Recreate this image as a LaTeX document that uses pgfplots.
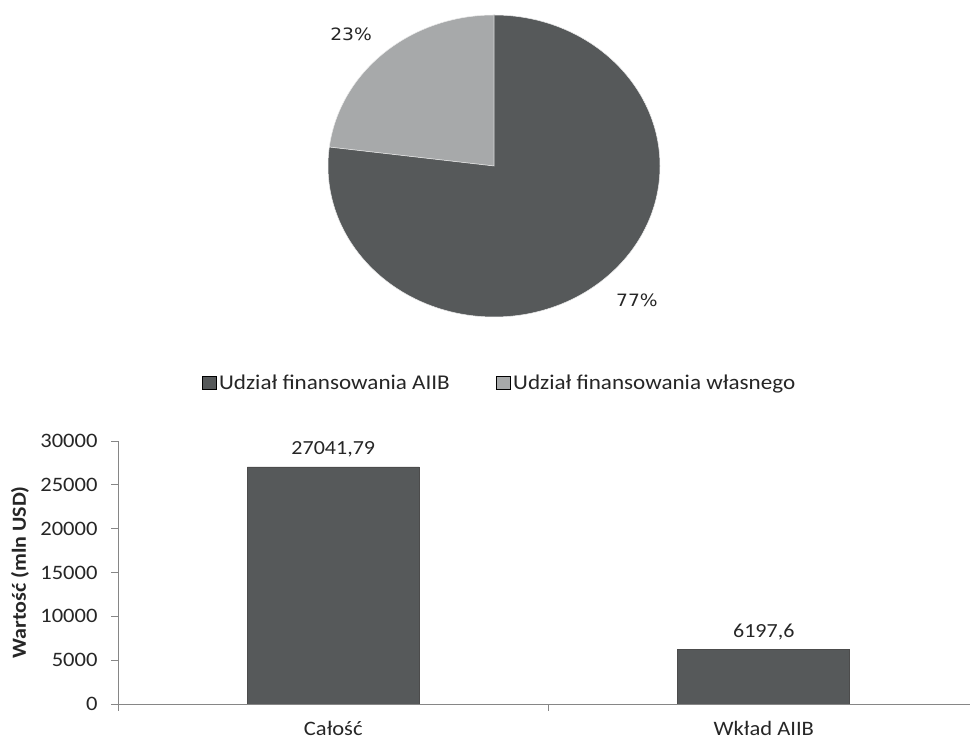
\documentclass[border=0pt]{standalone}
\usepackage{pgfplots}
\pgfplotsset{compat=1.18}
\usepackage{pgfplotstable}
\usepackage{fontspec}
\setmainfont{Carlito}[FakeStretch=1.1]
\newfontfamily\piefont{DejaVu Sans}[FakeStretch=1.1]

\definecolor{ciemny}{HTML}{56595A}
\definecolor{jasny}{HTML}{A7A9AA}
\definecolor{osie}{HTML}{868686}
\definecolor{tekst}{HTML}{262626}

% udzialy w finansowaniu (%)
\def\udzialAIIB{77}
\def\udzialWlasny{23}

\pgfplotstableread{
kat wart
0 27041.79
1 6197.6
}\slupki

\begin{document}
\begin{tikzpicture}
\useasboundingbox (0pt,0pt) rectangle (972pt,743pt);

% --- wykres kolowy ---
\begin{axis}[
    at={(494pt,577pt)}, anchor=center,
    scale only axis, width=332pt, height=302pt,
    xmin=-1, xmax=1, ymin=-1, ymax=1,
    hide axis, clip=false,
    legend columns=2,
    legend style={at={(0.518,-0.219)}, anchor=center, draw=none,
        font=\fontsize{21}{25}\selectfont, text=tekst,
        nodes={inner sep=2.5pt},
        /tikz/every even column/.append style={column sep=44pt}},
    legend image code/.code={\fill[#1] (0pt,-6.5pt) rectangle (14pt,6.5pt);},
]
\pgfmathsetmacro\katA{90+3.6*\udzialWlasny}
\pgfmathsetmacro\katB{\katA-360}
\fill[jasny, draw=white!85!gray, line width=0.5pt] (axis cs:0,0) -- (axis cs:0,1)
    arc[start angle=90, end angle=\katA, x radius=166pt, y radius=151pt] -- cycle;
\fill[ciemny, draw=white!85!gray, line width=0.5pt] (axis cs:0,0) -- (axis cs:0,1)
    arc[start angle=90, end angle=\katB, x radius=166pt, y radius=151pt] -- cycle;
\node[font=\piefont\fontsize{17}{20}\selectfont, text=tekst] at (axis cs:-0.861,0.874) {\udzialWlasny\%};
\node[font=\piefont\fontsize{17}{20}\selectfont, text=tekst] at (axis cs:0.861,-0.887) {\udzialAIIB\%};
\addlegendimage{fill=ciemny}
\addlegendentry{Udział finansowania AIIB}
\addlegendimage{fill=jasny}
\addlegendentry{Udział finansowania własnego}
\end{axis}

% --- wykres slupkowy ---
\begin{axis}[
    at={(118pt,39pt)}, anchor=south west,
    scale only axis, width=852pt, height=263pt,
    xmin=-0.5, xmax=1.479, ymin=0, ymax=30000,
    axis lines*=left,
    axis line style={osie, line width=0.8pt},
    ybar, bar width=172pt,
    ytick={0,5000,...,30000},
    scaled y ticks=false,
    xtick={-0.5,0.5}, xticklabels={},
    extra x ticks={0,1},
    extra x tick labels={Całość,Wkład AIIB},
    extra x tick style={major tick length=0pt, xticklabel style={yshift=-14pt}},
    tick align=outside, major tick length=7pt,
    tick style={osie, line width=0.8pt},
    ticklabel style={font=\fontsize{20.5}{24}\selectfont, text=tekst},
    yticklabel style={xshift=-10pt},
    /pgf/number format/1000 sep={},
    /pgf/number format/assume math mode=true,
    ylabel={Wartość (mln USD)},
    every axis y label/.style={at={(axis description cs:-0.115,0.5)},
        rotate=90, anchor=center,
        font=\bfseries\fontsize{20}{24}\selectfont, text=tekst},
    nodes near coords={\pgfmathprintnumber[fixed,precision=2,use comma,1000 sep={},assume math mode=true]{\pgfplotspointmeta}},
    nodes near coords style={font=\fontsize{20}{24}\selectfont, text=tekst, yshift=6pt},
]
\addplot[fill=ciemny, draw=black!70, line width=0.6pt] table[x=kat, y=wart] {\slupki};
\end{axis}
\end{tikzpicture}
\end{document}
